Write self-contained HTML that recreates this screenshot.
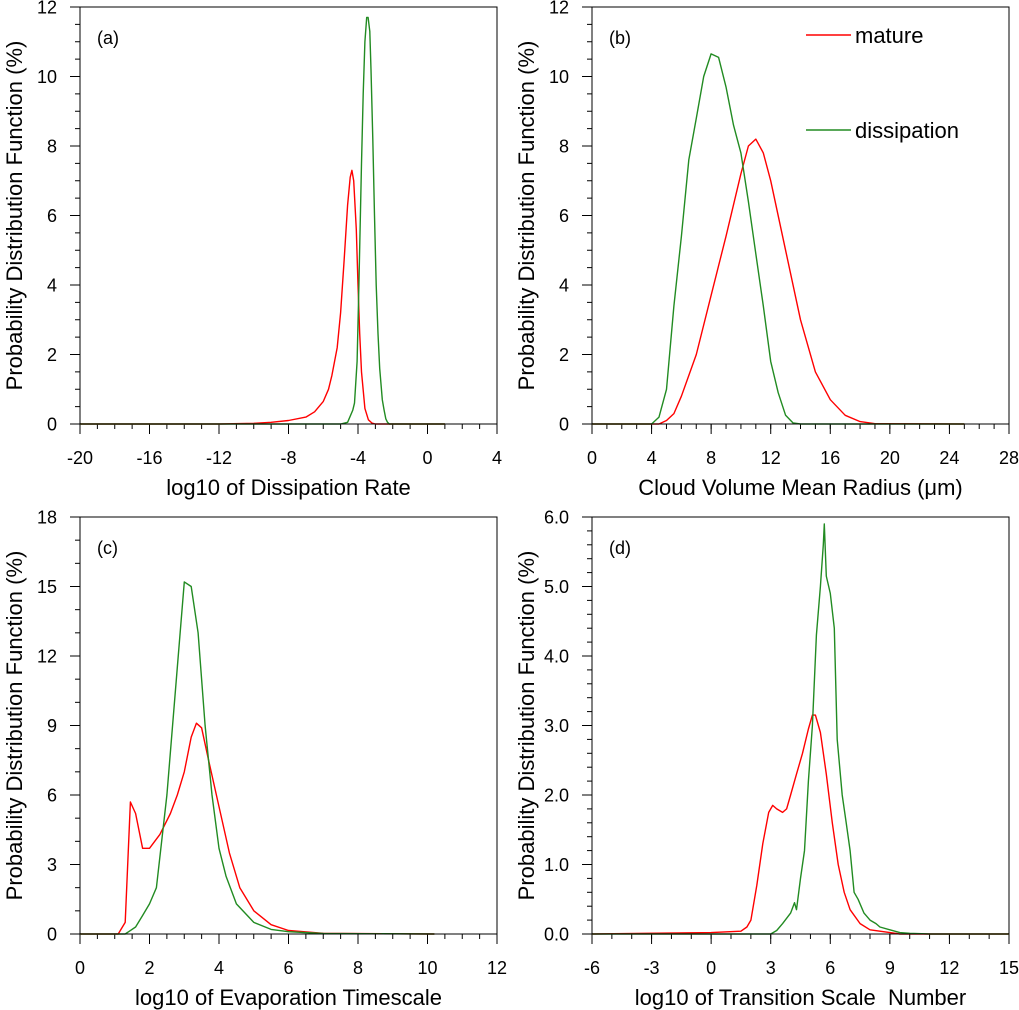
<!DOCTYPE html>
<html><head><meta charset="utf-8"><style>
html,body{margin:0;padding:0;background:#fff;}
svg{display:block;font-family:"Liberation Sans",sans-serif;}
</style></head><body>
<svg id="fig" width="1019" height="1010" viewBox="0 0 1019 1010" xmlns="http://www.w3.org/2000/svg"></svg>
<script>
// Panel (a) data
const aX_red=[-20,-12,-10,-9,-8,-7,-6.5,-6,-5.7,-5.5,-5.2,-5,-4.8,-4.6,-4.45,-4.35,-4.25,-4.1,-4,-3.9,-3.8,-3.6,-3.4,-3.2,-3,1];
const aY_red=[0,0,0.02,0.05,0.1,0.2,0.35,0.65,1.0,1.4,2.2,3.2,4.7,6.3,7.1,7.3,7.0,5.6,4.0,2.6,1.5,0.45,0.12,0.03,0,0];
const aX_green=[-20,-5,-4.6,-4.3,-4.2,-4.05,-3.95,-3.8,-3.7,-3.6,-3.5,-3.42,-3.32,-3.25,-3.15,-3.05,-2.95,-2.85,-2.75,-2.6,-2.5,-2.4,-2.3,-2.2,1];
const aY_green=[0,0,0.05,0.4,0.6,1.8,4.0,7.5,9.5,11.0,11.7,11.7,11.3,10.2,8.2,6.0,4.0,2.6,1.6,0.7,0.4,0.15,0.05,0,0];
// Panel (b) data
const bX_red=[0,4.5,5,5.5,6,7,8,9,10,10.5,11,11.5,12,13,14,15,16,17,18,19,25];
const bY_red=[0,0,0.1,0.3,0.8,2.0,3.7,5.4,7.2,8.0,8.2,7.8,7.0,5.0,3.0,1.5,0.7,0.25,0.07,0.01,0];
const bX_green=[0,4,4.5,5,5.5,6,6.5,7,7.5,8,8.5,9,9.5,10,10.5,11,11.5,12,12.5,13,13.5,14,25];
const bY_green=[0,0,0.2,1.0,3.4,5.4,7.6,8.8,10.0,10.65,10.55,9.7,8.6,7.8,6.4,4.9,3.4,1.8,0.9,0.25,0.03,0,0];
// Panel (c) data
const cX_red=[0,1.1,1.3,1.45,1.6,1.8,2,2.3,2.6,2.8,3,3.2,3.35,3.5,3.7,4,4.3,4.6,5,5.5,6,7,10.2];
const cY_red=[0,0,0.5,5.7,5.2,3.7,3.7,4.3,5.2,6.0,7.0,8.5,9.1,8.9,7.5,5.5,3.5,2.0,1.0,0.4,0.15,0.03,0];
const cX_green=[0,1.3,1.6,1.8,2,2.2,2.5,2.8,3,3.2,3.4,3.6,3.8,4,4.2,4.5,5,5.5,6,7,10.2];
const cY_green=[0,0,0.3,0.8,1.3,2.0,6.0,11.5,15.2,15.0,13.0,9.0,6.0,3.7,2.5,1.3,0.5,0.2,0.1,0.02,0];
// Panel (d) data
const dX_red=[-6,0,1.5,1.8,2,2.3,2.6,2.9,3.1,3.3,3.6,3.8,4,4.3,4.6,4.9,5.1,5.25,5.5,5.8,6.1,6.4,6.7,7,7.5,8,9,9.5,15];
const dY_red=[0,0.02,0.04,0.1,0.2,0.7,1.3,1.75,1.85,1.8,1.75,1.8,2.0,2.3,2.6,2.95,3.15,3.15,2.9,2.3,1.6,1.0,0.6,0.35,0.15,0.06,0.02,0,0];
const dX_green=[-6,3,3.3,3.6,4,4.2,4.3,4.5,4.7,4.9,5.1,5.3,5.5,5.65,5.7,5.8,6,6.2,6.35,6.6,6.8,7,7.2,7.4,7.7,8,8.3,8.5,9,9.5,10,11,15];
const dY_green=[0,0,0.05,0.15,0.3,0.45,0.35,0.8,1.2,2.2,3.0,4.3,5.0,5.6,5.9,5.15,4.9,4.4,2.8,2.0,1.6,1.2,0.6,0.5,0.3,0.2,0.15,0.1,0.06,0.02,0.01,0,0];
// tick labels
const aXTicks=["-20","-16","-12","-8","-4","0","4"];
const abYTicks=["0","2","4","6","8","10","12"];
const bXTicks=["0","4","8","12","16","20","24","28"];
const cXTicks=["0","2","4","6","8","10","12"];
const cYTicks=["0","3","6","9","12","15","18"];
const dXTicks=["-6","-3","0","3","6","9","12","15"];
const dYTicks=["0.0","1.0","2.0","3.0","4.0","5.0","6.0"];

const NS="http://www.w3.org/2000/svg";
const svg=document.getElementById('fig');
function mk(tag,attrs,parent){const e=document.createElementNS(NS,tag);for(const k in attrs)e.setAttribute(k,attrs[k]);(parent||svg).appendChild(e);return e;}

function panel(p){
  const g=mk('g',{});
  
  
  const L=p.L,T=p.T,W=417,H=417;
  const xs=v=>L+(v-p.x0)/(p.x1-p.x0)*W;
  const ys=v=>T+H-(v-p.y0)/(p.y1-p.y0)*H;
  for(let v=p.x0;v<=p.x1+1e-9;v+=p.xm){
    const t=mk('line',{x1:xs(v),x2:xs(v),y1:T+H,y2:T+H+5,stroke:'#000','stroke-width':1},g);
    
  }
  for(let v=p.y0;v<=p.y1+1e-9;v+=p.ym){
    const t=mk('line',{x1:L-5,x2:L,y1:ys(v),y2:ys(v),stroke:'#000','stroke-width':1},g);
    
  }
  p.xt.forEach(s=>{
    const v=parseFloat(s);
    const t=mk('line',{x1:xs(v),x2:xs(v),y1:T+H,y2:T+H+10,stroke:'#000','stroke-width':1},g);
    
    const tx=mk('text',{x:xs(v),y:T+H+40,'text-anchor':'middle','font-size':18},g);
    tx.textContent=s;
    
  });
  p.yt.forEach(s=>{
    const v=parseFloat(s);
    const t=mk('line',{x1:L-10,x2:L,y1:ys(v),y2:ys(v),stroke:'#000','stroke-width':1},g);
    
    const tx=mk('text',{x:L-23,y:ys(v)+6.5,'text-anchor':'end','font-size':18},g);
    tx.textContent=s;
    
  });
  const series=[[p.rx,p.ry,'#ff0000','mature-line'],[p.gx,p.gy,'#228b22','dissipation-line']];
  series.forEach(([X,Y,c,n])=>{
    const d=X.map((x,i)=>(i?'L':'M')+xs(x).toFixed(1)+','+ys(Y[i]).toFixed(1)).join('');
    const pa=mk('path',{d:d,fill:'none',stroke:c,'stroke-width':1.4,'stroke-linejoin':'round'},g);
    
  });
  const fr=mk('rect',{x:L,y:T,width:W,height:H,fill:'none',stroke:'#000','stroke-width':1},g);
  
  const lab=mk('text',{x:L+17,y:T+37,'font-size':18},g);
  lab.textContent='('+p.id+')';
  
  const xt=mk('text',{x:L+W/2,y:T+H+71,'text-anchor':'middle','font-size':22},g);
  xt.innerHTML=p.xtitle;
  
  const yt=mk('text',{x:0,y:0,'text-anchor':'middle','font-size':22,transform:'translate('+(L-58)+','+(T+H/2)+') rotate(-90)'},g);
  yt.textContent='Probability Distribution Function (%)';
  
}
panel({id:'a',L:80,T:7,x0:-20,x1:4,y0:0,y1:12,xm:1,ym:0.5,xt:aXTicks,yt:abYTicks,rx:aX_red,ry:aY_red,gx:aX_green,gy:aY_green,xtitle:'log10 of Dissipation Rate'});
panel({id:'b',L:592,T:7,x0:0,x1:28,y0:0,y1:12,xm:1,ym:0.5,xt:bXTicks,yt:abYTicks,rx:bX_red,ry:bY_red,gx:bX_green,gy:bY_green,xtitle:'Cloud Volume Mean Radius (μm)'});
panel({id:'c',L:80,T:517,x0:0,x1:12,y0:0,y1:18,xm:0.5,ym:1,xt:cXTicks,yt:cYTicks,rx:cX_red,ry:cY_red,gx:cX_green,gy:cY_green,xtitle:'log10 of Evaporation Timescale'});
panel({id:'d',L:592,T:517,x0:-6,x1:15,y0:0,y1:6,xm:1,ym:0.2,xt:dXTicks,yt:dYTicks,rx:dX_red,ry:dY_red,gx:dX_green,gy:dY_green,xtitle:'log10 of Transition Scale&#160; Number'});

const lg=mk('g',{});


[['mature','#ff0000',35],['dissipation','#228b22',130]].forEach(([t,c,y])=>{
  const e=mk('g',{},lg);
  
  
  mk('line',{x1:806,x2:851,y1:y,y2:y,stroke:c,'stroke-width':1.4},e);
  const tx=mk('text',{x:855,y:y+8,'font-size':22},e);
  tx.textContent=t;
});
</script>
</body></html>
